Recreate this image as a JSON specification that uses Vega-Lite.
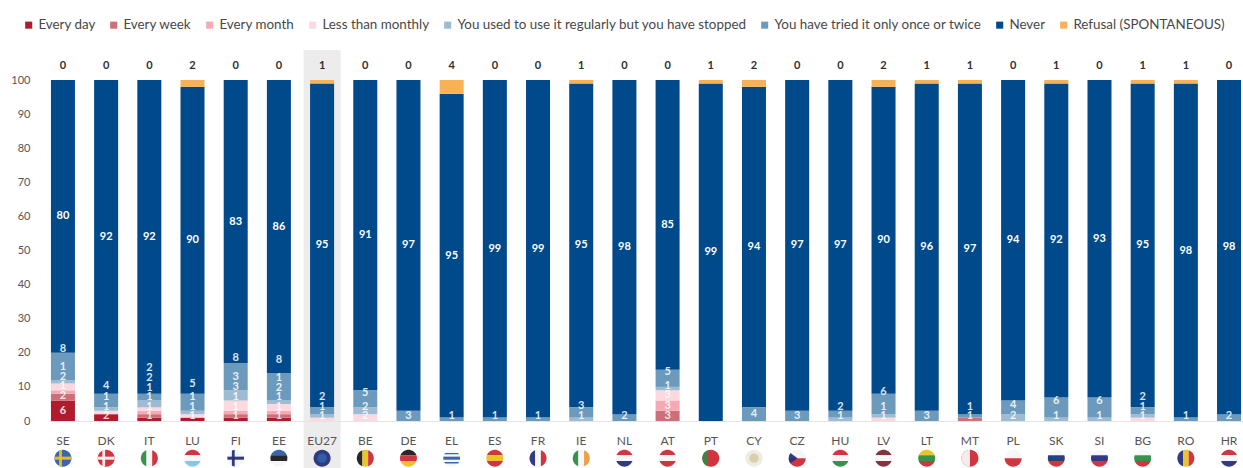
{
  "$schema": "https://vega.github.io/schema/vega-lite/v6.json",
  "width": 1194,
  "height": 341,
  "autosize": "none",
  "padding": {"left": 49, "top": 80, "right": 0, "bottom": 47},
  "background": "white",
  "config": {
    "view": {"stroke": null},
    "font": "Lato",
    "axisX": {"labelAngle": 0, "labelFontSize": 12, "labelColor": "#555555", "labelPadding": 14, "ticks": false, "domainColor": "#e4e4e4", "grid": false},
    "axisY": {"grid": false, "domain": false, "ticks": false, "labelFontSize": 11, "labelColor": "#555555", "labelPadding": 19}
  },
  "datasets": {
    "answers": [
      {"country":"SE","answer":"Every day","value":6},{"country":"SE","answer":"Every week","value":2},{"country":"SE","answer":"Every month","value":1},{"country":"SE","answer":"Less than monthly","value":2},{"country":"SE","answer":"You used to use it regularly but you have stopped","value":1},{"country":"SE","answer":"You have tried it only once or twice","value":8},{"country":"SE","answer":"Never","value":80},{"country":"SE","answer":"Refusal (SPONTANEOUS)","value":0},
      {"country":"DK","answer":"Every day","value":2},{"country":"DK","answer":"Less than monthly","value":1},{"country":"DK","answer":"You used to use it regularly but you have stopped","value":1},{"country":"DK","answer":"You have tried it only once or twice","value":4},{"country":"DK","answer":"Never","value":92},{"country":"DK","answer":"Refusal (SPONTANEOUS)","value":0},
      {"country":"IT","answer":"Every day","value":1},{"country":"IT","answer":"Every week","value":1},{"country":"IT","answer":"Every month","value":1},{"country":"IT","answer":"Less than monthly","value":1},{"country":"IT","answer":"You used to use it regularly but you have stopped","value":2},{"country":"IT","answer":"You have tried it only once or twice","value":2},{"country":"IT","answer":"Never","value":92},{"country":"IT","answer":"Refusal (SPONTANEOUS)","value":0},
      {"country":"LU","answer":"Every day","value":1},{"country":"LU","answer":"Less than monthly","value":1},{"country":"LU","answer":"You used to use it regularly but you have stopped","value":1},{"country":"LU","answer":"You have tried it only once or twice","value":5},{"country":"LU","answer":"Never","value":90},{"country":"LU","answer":"Refusal (SPONTANEOUS)","value":2},
      {"country":"FI","answer":"Every day","value":1},{"country":"FI","answer":"Every week","value":1},{"country":"FI","answer":"Every month","value":1},{"country":"FI","answer":"Less than monthly","value":3},{"country":"FI","answer":"You used to use it regularly but you have stopped","value":3},{"country":"FI","answer":"You have tried it only once or twice","value":8},{"country":"FI","answer":"Never","value":83},{"country":"FI","answer":"Refusal (SPONTANEOUS)","value":0},
      {"country":"EE","answer":"Every day","value":1},{"country":"EE","answer":"Every week","value":1},{"country":"EE","answer":"Every month","value":1},{"country":"EE","answer":"Less than monthly","value":2},{"country":"EE","answer":"You used to use it regularly but you have stopped","value":1},{"country":"EE","answer":"You have tried it only once or twice","value":8},{"country":"EE","answer":"Never","value":86},{"country":"EE","answer":"Refusal (SPONTANEOUS)","value":0},
      {"country":"EU27","answer":"Less than monthly","value":1},{"country":"EU27","answer":"You used to use it regularly but you have stopped","value":1},{"country":"EU27","answer":"You have tried it only once or twice","value":2},{"country":"EU27","answer":"Never","value":95},{"country":"EU27","answer":"Refusal (SPONTANEOUS)","value":1},
      {"country":"BE","answer":"Less than monthly","value":2},{"country":"BE","answer":"You used to use it regularly but you have stopped","value":2},{"country":"BE","answer":"You have tried it only once or twice","value":5},{"country":"BE","answer":"Never","value":91},{"country":"BE","answer":"Refusal (SPONTANEOUS)","value":0},
      {"country":"DE","answer":"You have tried it only once or twice","value":3},{"country":"DE","answer":"Never","value":97},{"country":"DE","answer":"Refusal (SPONTANEOUS)","value":0},
      {"country":"EL","answer":"You have tried it only once or twice","value":1},{"country":"EL","answer":"Never","value":95},{"country":"EL","answer":"Refusal (SPONTANEOUS)","value":4},
      {"country":"ES","answer":"You have tried it only once or twice","value":1},{"country":"ES","answer":"Never","value":99},{"country":"ES","answer":"Refusal (SPONTANEOUS)","value":0},
      {"country":"FR","answer":"You have tried it only once or twice","value":1},{"country":"FR","answer":"Never","value":99},{"country":"FR","answer":"Refusal (SPONTANEOUS)","value":0},
      {"country":"IE","answer":"You used to use it regularly but you have stopped","value":1},{"country":"IE","answer":"You have tried it only once or twice","value":3},{"country":"IE","answer":"Never","value":95},{"country":"IE","answer":"Refusal (SPONTANEOUS)","value":1},
      {"country":"NL","answer":"You have tried it only once or twice","value":2},{"country":"NL","answer":"Never","value":98},{"country":"NL","answer":"Refusal (SPONTANEOUS)","value":0},
      {"country":"AT","answer":"Every week","value":3},{"country":"AT","answer":"Every month","value":3},{"country":"AT","answer":"Less than monthly","value":3},{"country":"AT","answer":"You used to use it regularly but you have stopped","value":1},{"country":"AT","answer":"You have tried it only once or twice","value":5},{"country":"AT","answer":"Never","value":85},{"country":"AT","answer":"Refusal (SPONTANEOUS)","value":0},
      {"country":"PT","answer":"Never","value":99},{"country":"PT","answer":"Refusal (SPONTANEOUS)","value":1},
      {"country":"CY","answer":"You have tried it only once or twice","value":4},{"country":"CY","answer":"Never","value":94},{"country":"CY","answer":"Refusal (SPONTANEOUS)","value":2},
      {"country":"CZ","answer":"You have tried it only once or twice","value":3},{"country":"CZ","answer":"Never","value":97},{"country":"CZ","answer":"Refusal (SPONTANEOUS)","value":0},
      {"country":"HU","answer":"You used to use it regularly but you have stopped","value":1},{"country":"HU","answer":"You have tried it only once or twice","value":2},{"country":"HU","answer":"Never","value":97},{"country":"HU","answer":"Refusal (SPONTANEOUS)","value":0},
      {"country":"LV","answer":"Less than monthly","value":1},{"country":"LV","answer":"You used to use it regularly but you have stopped","value":1},{"country":"LV","answer":"You have tried it only once or twice","value":6},{"country":"LV","answer":"Never","value":90},{"country":"LV","answer":"Refusal (SPONTANEOUS)","value":2},
      {"country":"LT","answer":"You have tried it only once or twice","value":3},{"country":"LT","answer":"Never","value":96},{"country":"LT","answer":"Refusal (SPONTANEOUS)","value":1},
      {"country":"MT","answer":"Every week","value":1},{"country":"MT","answer":"You have tried it only once or twice","value":1},{"country":"MT","answer":"Never","value":97},{"country":"MT","answer":"Refusal (SPONTANEOUS)","value":1},
      {"country":"PL","answer":"You used to use it regularly but you have stopped","value":2},{"country":"PL","answer":"You have tried it only once or twice","value":4},{"country":"PL","answer":"Never","value":94},{"country":"PL","answer":"Refusal (SPONTANEOUS)","value":0},
      {"country":"SK","answer":"You used to use it regularly but you have stopped","value":1},{"country":"SK","answer":"You have tried it only once or twice","value":6},{"country":"SK","answer":"Never","value":92},{"country":"SK","answer":"Refusal (SPONTANEOUS)","value":1},
      {"country":"SI","answer":"You used to use it regularly but you have stopped","value":1},{"country":"SI","answer":"You have tried it only once or twice","value":6},{"country":"SI","answer":"Never","value":93},{"country":"SI","answer":"Refusal (SPONTANEOUS)","value":0},
      {"country":"BG","answer":"Less than monthly","value":1},{"country":"BG","answer":"You used to use it regularly but you have stopped","value":1},{"country":"BG","answer":"You have tried it only once or twice","value":2},{"country":"BG","answer":"Never","value":95},{"country":"BG","answer":"Refusal (SPONTANEOUS)","value":1},
      {"country":"RO","answer":"You have tried it only once or twice","value":1},{"country":"RO","answer":"Never","value":98},{"country":"RO","answer":"Refusal (SPONTANEOUS)","value":1},
      {"country":"HR","answer":"You have tried it only once or twice","value":2},{"country":"HR","answer":"Never","value":98},{"country":"HR","answer":"Refusal (SPONTANEOUS)","value":0}
    ],
    "flags": [
      {"country":"SE","part":"disc","tone":"blue"},{"country":"SE","part":"crossBar","tone":"yellow"},{"country":"SE","part":"crossPost","tone":"yellow"},
      {"country":"DK","part":"disc","tone":"red"},{"country":"DK","part":"crossBar","tone":"white"},{"country":"DK","part":"crossPost","tone":"white"},
      {"country":"IT","part":"left","tone":"green"},{"country":"IT","part":"center","tone":"white"},{"country":"IT","part":"right","tone":"red"},
      {"country":"LU","part":"top","tone":"red"},{"country":"LU","part":"middle","tone":"white"},{"country":"LU","part":"bottom","tone":"sky"},
      {"country":"FI","part":"disc","tone":"white"},{"country":"FI","part":"crossBar","tone":"navy"},{"country":"FI","part":"crossPost","tone":"navy"},
      {"country":"EE","part":"top","tone":"blue"},{"country":"EE","part":"middle","tone":"black"},{"country":"EE","part":"bottom","tone":"white"},
      {"country":"EU27","part":"disc","tone":"navy"},{"country":"EU27","part":"spot","tone":"blue"},
      {"country":"BE","part":"left","tone":"black"},{"country":"BE","part":"center","tone":"yellow"},{"country":"BE","part":"right","tone":"red"},
      {"country":"DE","part":"top","tone":"black"},{"country":"DE","part":"middle","tone":"red"},{"country":"DE","part":"bottom","tone":"yellow"},
      {"country":"EL","part":"disc","tone":"white"},{"country":"EL","part":"stripeUpper","tone":"blue"},{"country":"EL","part":"crossBar","tone":"blue"},{"country":"EL","part":"stripeLower","tone":"blue"},
      {"country":"ES","part":"top","tone":"red"},{"country":"ES","part":"middle","tone":"yellow"},{"country":"ES","part":"bottom","tone":"red"},
      {"country":"FR","part":"left","tone":"navy"},{"country":"FR","part":"center","tone":"white"},{"country":"FR","part":"right","tone":"red"},
      {"country":"IE","part":"left","tone":"green"},{"country":"IE","part":"center","tone":"white"},{"country":"IE","part":"right","tone":"orange"},
      {"country":"NL","part":"top","tone":"red"},{"country":"NL","part":"middle","tone":"white"},{"country":"NL","part":"bottom","tone":"navy"},
      {"country":"AT","part":"top","tone":"red"},{"country":"AT","part":"middle","tone":"white"},{"country":"AT","part":"bottom","tone":"red"},
      {"country":"PT","part":"disc","tone":"red"},{"country":"PT","part":"left","tone":"green"},
      {"country":"CY","part":"disc","tone":"pale"},{"country":"CY","part":"spot","tone":"tan"},
      {"country":"CZ","part":"upperHalf","tone":"white"},{"country":"CZ","part":"lowerHalf","tone":"red"},{"country":"CZ","part":"wedge","tone":"navy"},
      {"country":"HU","part":"top","tone":"red"},{"country":"HU","part":"middle","tone":"white"},{"country":"HU","part":"bottom","tone":"green"},
      {"country":"LV","part":"top","tone":"maroon"},{"country":"LV","part":"middle","tone":"white"},{"country":"LV","part":"bottom","tone":"maroon"},
      {"country":"LT","part":"top","tone":"yellow"},{"country":"LT","part":"middle","tone":"green"},{"country":"LT","part":"bottom","tone":"red"},
      {"country":"MT","part":"disc","tone":"red"},{"country":"MT","part":"leftHalf","tone":"white"},
      {"country":"PL","part":"upperHalf","tone":"white"},{"country":"PL","part":"lowerHalf","tone":"red"},
      {"country":"SK","part":"top","tone":"white"},{"country":"SK","part":"middle","tone":"navy"},{"country":"SK","part":"bottom","tone":"red"},
      {"country":"SI","part":"top","tone":"white"},{"country":"SI","part":"middle","tone":"navy"},{"country":"SI","part":"bottom","tone":"red"},
      {"country":"BG","part":"top","tone":"white"},{"country":"BG","part":"middle","tone":"green"},{"country":"BG","part":"bottom","tone":"red"},
      {"country":"RO","part":"left","tone":"navy"},{"country":"RO","part":"center","tone":"yellow"},{"country":"RO","part":"right","tone":"red"},
      {"country":"HR","part":"top","tone":"red"},{"country":"HR","part":"middle","tone":"white"},{"country":"HR","part":"bottom","tone":"navy"}
    ],
    "highlight": [{"country":"EU27"}]
  },
  "layer": [
    {
      "data": {"name": "highlight"},
      "mark": {"type": "bar", "size": 37, "color": "#ececec"},
      "encoding": {
        "x": {
          "field": "country",
          "type": "nominal",
          "scale": {
            "domain": ["SE","DK","IT","LU","FI","EE","EU27","BE","DE","EL","ES","FR","IE","NL","AT","PT","CY","CZ","HU","LV","LT","MT","PL","SK","SI","BG","RO","HR"],
            "paddingInner": 0.444,
            "paddingOuter": 0.045
          },
          "axis": {"title": null, "zindex": 1}
        },
        "y": {
          "datum": 108.8,
          "scale": {"domain": [0, 100], "nice": false},
          "axis": {"title": null, "zindex": 1, "values": [0,10,20,30,40,50,60,70,80,90,100]}
        },
        "y2": {"datum": -13.8}
      }
    },
    {
      "data": {"name": "answers"},
      "transform": [
        {"calculate": "indexof(['Every day','Every week','Every month','Less than monthly','You used to use it regularly but you have stopped','You have tried it only once or twice','Never','Refusal (SPONTANEOUS)'], datum.answer)", "as": "rank"},
        {"stack": "value", "groupby": ["country"], "sort": [{"field": "rank", "order": "ascending"}], "as": ["v0", "v1"]}
      ],
      "mark": {"type": "bar"},
      "encoding": {
        "x": {"field": "country", "type": "nominal", "axis": {"title": null, "zindex": 1}},
        "y": {"field": "v0", "type": "quantitative", "axis": {"title": null, "zindex": 1, "values": [0,10,20,30,40,50,60,70,80,90,100]}},
        "y2": {"field": "v1"},
        "color": {
          "field": "answer",
          "type": "nominal",
          "scale": {
            "domain": ["Every day","Every week","Every month","Less than monthly","You used to use it regularly but you have stopped","You have tried it only once or twice","Never","Refusal (SPONTANEOUS)"],
            "range": ["#b01c2e","#cd6f78","#f5a9b4","#fbd9de","#9dbbd3","#6c9abd","#004a8c","#f8b255"]
          },
          "legend": {
            "title": null,
            "orient": "none",
            "legendX": -27,
            "legendY": -62,
            "direction": "horizontal",
            "columns": 8,
            "columnPadding": 11,
            "symbolType": "square",
            "symbolSize": 50,
            "symbolStrokeWidth": 0,
            "labelFont": "Lato",
            "labelFontSize": 13.4,
            "labelColor": "#484848",
            "labelOffset": 3,
            "labelLimit": 340
          }
        }
      }
    },
    {
      "data": {"name": "answers"},
      "transform": [
        {"calculate": "indexof(['Every day','Every week','Every month','Less than monthly','You used to use it regularly but you have stopped','You have tried it only once or twice','Never','Refusal (SPONTANEOUS)'], datum.answer)", "as": "rank"},
        {"stack": "value", "groupby": ["country"], "sort": [{"field": "rank", "order": "ascending"}], "as": ["v0", "v1"]},
        {"filter": "datum.answer === 'Never'"},
        {"calculate": "(datum.v0 + datum.v1) / 2", "as": "mid"}
      ],
      "mark": {"type": "text", "color": "white", "fontWeight": "bold", "fontSize": 11},
      "encoding": {
        "x": {"field": "country", "type": "nominal", "axis": {"title": null, "zindex": 1}},
        "y": {"field": "mid", "type": "quantitative", "axis": {"title": null, "zindex": 1, "values": [0,10,20,30,40,50,60,70,80,90,100]}},
        "text": {"field": "value", "type": "quantitative"}
      }
    },
    {
      "data": {"name": "answers"},
      "transform": [
        {"calculate": "indexof(['Every day','Every week','Every month','Less than monthly','You used to use it regularly but you have stopped','You have tried it only once or twice','Never','Refusal (SPONTANEOUS)'], datum.answer)", "as": "rank"},
        {"filter": "datum.rank < 6 && datum.value > 0"},
        {"calculate": "max(datum.value, 2.8)", "as": "room"},
        {"stack": "room", "groupby": ["country"], "sort": [{"field": "rank", "order": "ascending"}], "as": ["l0", "l1"]},
        {"calculate": "(datum.l0 + datum.l1) / 2", "as": "mid"}
      ],
      "mark": {"type": "text", "color": "white", "fontWeight": "bold", "fontSize": 11, "opacity": 0.85},
      "encoding": {
        "x": {"field": "country", "type": "nominal", "axis": {"title": null, "zindex": 1}},
        "y": {"field": "mid", "type": "quantitative", "axis": {"title": null, "zindex": 1, "values": [0,10,20,30,40,50,60,70,80,90,100]}},
        "text": {"field": "value", "type": "quantitative"}
      }
    },
    {
      "data": {"name": "answers"},
      "transform": [{"filter": "datum.answer === 'Refusal (SPONTANEOUS)'"}],
      "mark": {"type": "text", "color": "#2f2f2f", "fontWeight": "bold", "fontSize": 11},
      "encoding": {
        "x": {"field": "country", "type": "nominal", "axis": {"title": null, "zindex": 1}},
        "y": {"datum": 104, "axis": {"title": null, "zindex": 1, "values": [0,10,20,30,40,50,60,70,80,90,100]}},
        "text": {"field": "value", "type": "quantitative"}
      }
    },
    {
      "data": {"name": "flags"},
      "mark": {"type": "point", "filled": true, "opacity": 0.95, "size": 289},
      "encoding": {
        "x": {"field": "country", "type": "nominal", "axis": {"title": null, "zindex": 1}},
        "y": {"datum": -10.9, "axis": {"title": null, "zindex": 1, "values": [0,10,20,30,40,50,60,70,80,90,100]}},
        "shape": {
          "field": "part",
          "type": "nominal",
          "legend": null,
          "scale": {
            "domain": ["disc","top","middle","bottom","left","center","right","upperHalf","lowerHalf","leftHalf","crossBar","crossPost","stripeUpper","stripeLower","wedge","spot"],
            "range": [
              "M-1 0A1 1 0 1 1 1 0A1 1 0 1 1 -1 0Z",
              "M-0.943 -0.333A1 1 0 0 1 0.943 -0.333Z",
              "M-0.943 -0.333A1 1 0 0 0 -0.943 0.333L0.943 0.333A1 1 0 0 0 0.943 -0.333Z",
              "M-0.943 0.333A1 1 0 0 0 0.943 0.333Z",
              "M-0.333 -0.943A1 1 0 0 0 -0.333 0.943Z",
              "M-0.333 -0.943A1 1 0 0 1 0.333 -0.943L0.333 0.943A1 1 0 0 1 -0.333 0.943Z",
              "M0.333 -0.943A1 1 0 0 1 0.333 0.943Z",
              "M-1 0A1 1 0 0 1 1 0Z",
              "M-1 0A1 1 0 0 0 1 0Z",
              "M0 -1A1 1 0 0 0 0 1Z",
              "M-0.98 -0.18L0.98 -0.18L0.98 0.18L-0.98 0.18Z",
              "M-0.45 -0.89L-0.12 -0.99L-0.12 0.99L-0.45 0.89Z",
              "M-0.75 -0.62L0.75 -0.62L0.88 -0.46L-0.88 -0.46Z",
              "M-0.88 0.46L0.88 0.46L0.75 0.62L-0.75 0.62Z",
              "M-0.8 -0.6L0.05 0L-0.8 0.6A1 1 0 0 1 -0.8 -0.6Z",
              "M-0.55 0A0.55 0.55 0 1 1 0.55 0A0.55 0.55 0 1 1 -0.55 0Z"
            ]
          }
        },
        "color": {
          "field": "tone",
          "type": "nominal",
          "legend": null,
          "scale": {
            "domain": ["blue","navy","sky","yellow","red","maroon","white","pale","tan","green","black","orange"],
            "range": ["#2f5fa8","#27307a","#7fc4e8","#e8c21f","#cf2a36","#7c2a35","#f6f6f6","#ecebe2","#d8cfa8","#2e8b45","#1c1c1c","#ef9a3c"]
          }
        }
      }
    }
  ],
  "resolve": {"scale": {"color": "independent"}}
}
